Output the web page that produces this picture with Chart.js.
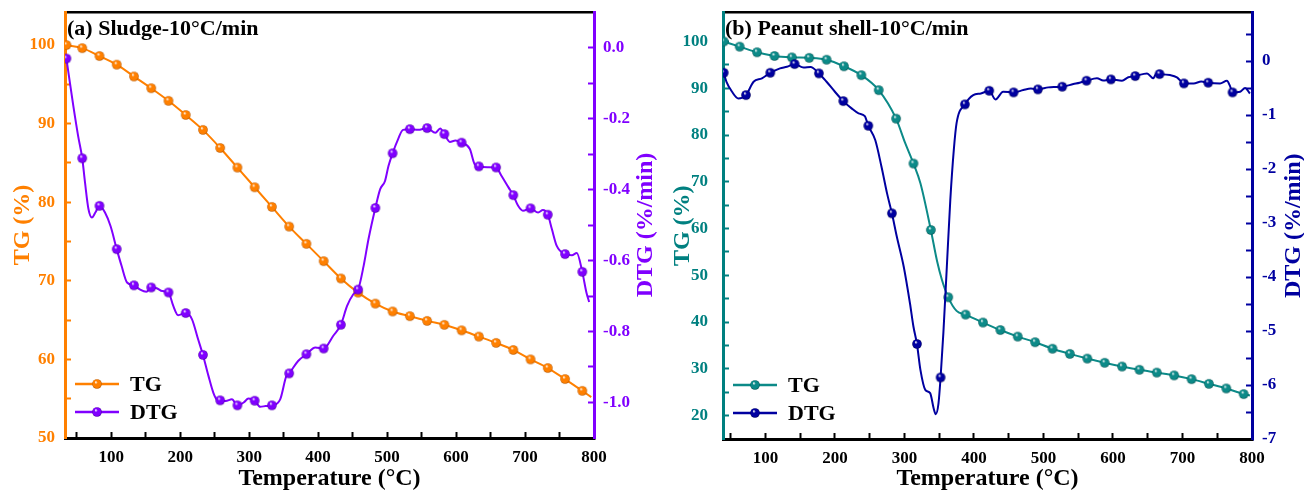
<!DOCTYPE html>
<html>
<head>
<meta charset="utf-8">
<script src="https://cdn.jsdelivr.net/npm/chart.js@4.4.0/dist/chart.umd.min.js"></script>
<style>
  html, body { margin: 0; padding: 0; background: #fff; }
  #wrap { position: relative; width: 1304px; height: 490px; overflow: hidden; }
  canvas { position: absolute; top: 0; }
  #sludge { left: 0; }
  #peanut { left: 660px; }
</style>
</head>
<body>
<div id="wrap">
  <canvas id="sludge" width="660" height="490"></canvas>
  <canvas id="peanut" width="644" height="490"></canvas>
</div>
<script>
// ---------- (a) Sludge, 10 °C/min ----------
const SLUDGE_TG_T = [35, 58, 83, 108, 133, 158, 183, 208, 233, 258, 283, 308, 333, 358, 383, 408,
  433, 458, 483, 508, 533, 558, 583, 608, 633, 658, 683, 708, 733, 758, 783, 796];
const SLUDGE_TG = [100.0, 99.6, 98.6, 97.5, 96.0, 94.5, 92.9, 91.1, 89.2, 86.9, 84.4, 81.9, 79.4, 76.9, 74.7, 72.5,
  70.3, 68.5, 67.1, 66.1, 65.5, 64.9, 64.4, 63.7, 62.9, 62.1, 61.2, 60.0, 58.9, 57.5, 56.0, 55.2];

const SLUDGE_DTG_T = [35, 45, 52, 58, 62, 67, 72, 77, 83, 91, 99, 108, 115, 123, 133, 142, 151, 158, 166, 174,
  183, 190, 197, 208, 217, 226, 233, 241, 248, 253, 258, 266, 275, 283, 292, 299, 308, 316, 324, 333,
  345, 354, 358, 371, 383, 396, 408, 422, 433, 442, 451, 458, 466, 473, 483, 490, 497, 502, 508, 516,
  523, 533, 545, 558, 570, 577, 583, 591, 599, 608, 620, 627, 633, 646, 658, 666, 676, 683, 690, 697,
  708, 719, 726, 733, 739, 746, 758, 768, 775, 783, 789, 793];
const SLUDGE_DTG = [-0.031, -0.164, -0.249, -0.312, -0.380, -0.455, -0.479, -0.465, -0.446, -0.465, -0.503, -0.568,
  -0.615, -0.662, -0.670, -0.682, -0.688, -0.676, -0.678, -0.686, -0.690, -0.728, -0.754, -0.748, -0.765,
  -0.822, -0.866, -0.925, -0.972, -0.991, -0.994, -0.996, -0.991, -1.008, -1.000, -0.989, -0.995, -1.012,
  -1.010, -1.008, -0.991, -0.925, -0.918, -0.883, -0.864, -0.845, -0.848, -0.812, -0.781, -0.728, -0.695,
  -0.682, -0.615, -0.540, -0.452, -0.399, -0.376, -0.334, -0.298, -0.258, -0.232, -0.230, -0.232, -0.227,
  -0.240, -0.228, -0.244, -0.266, -0.262, -0.268, -0.286, -0.329, -0.335, -0.337, -0.338, -0.362, -0.394,
  -0.416, -0.446, -0.460, -0.453, -0.465, -0.458, -0.471, -0.512, -0.559, -0.582, -0.585, -0.579, -0.632,
  -0.690, -0.717];

const SLUDGE_MARK_T = [35, 58, 83, 108, 133, 158, 183, 208, 233, 258, 283, 308, 333, 358, 383, 408,
  433, 458, 483, 508, 533, 558, 583, 608, 633, 658, 683, 708, 733, 758, 783];

// ---------- (b) Peanut shell, 10 °C/min ----------
const PEANUT_TG_T = [40, 63, 88, 113, 138, 163, 188, 213, 238, 263, 288, 301, 313, 323, 338, 347, 354, 363, 375,
  388, 413, 438, 463, 488, 513, 538, 563, 588, 613, 638, 663, 688, 713, 738, 763, 788, 797];
const PEANUT_TG = [100.0, 98.9, 97.7, 96.9, 96.6, 96.5, 96.1, 94.7, 92.8, 89.6, 83.5, 78.3, 73.9, 69.7, 59.7, 53.0,
  49.0, 45.3, 42.4, 41.6, 39.9, 38.3, 36.9, 35.7, 34.3, 33.2, 32.2, 31.3, 30.5, 29.8, 29.2, 28.6, 27.8, 26.8,
  25.8, 24.6, 24.3];
const PEANUT_TG_MARK_T = [40, 63, 88, 113, 138, 163, 188, 213, 238, 263, 288, 313, 338, 363, 388, 413, 438,
  463, 488, 513, 538, 563, 588, 613, 638, 663, 688, 713, 738, 763, 788];

const PEANUT_DTG_T = [40, 44, 52, 61, 72, 83, 95, 107, 121, 131, 142, 155, 165, 177, 188, 200, 212, 224, 234, 243,
  248, 258, 267, 275, 282, 289, 299, 308, 313, 318, 323, 330, 337, 342, 345, 349, 352, 356, 361, 366,
  371, 375, 387, 399, 410, 422, 431, 442, 457, 471, 482, 492, 507, 517, 527, 543, 552, 562, 577, 586,
  597, 613, 622, 632, 649, 658, 662, 667, 682, 692, 702, 716, 727, 737, 754, 764, 768, 772, 783, 790, 797];
const PEANUT_DTG = [-0.217, -0.383, -0.568, -0.691, -0.630, -0.383, -0.320, -0.217, -0.135, -0.105, -0.056, -0.117,
  -0.110, -0.228, -0.383, -0.568, -0.741, -0.876, -0.969, -1.019, -1.198, -1.463, -1.957, -2.450, -2.820,
  -3.250, -3.810, -4.490, -4.920, -5.240, -5.720, -6.090, -6.150, -6.430, -6.540, -6.340, -5.860, -5.040,
  -3.810, -2.570, -1.650, -1.150, -0.802, -0.630, -0.600, -0.550, -0.710, -0.568, -0.580, -0.537, -0.510,
  -0.524, -0.487, -0.480, -0.475, -0.426, -0.400, -0.364, -0.320, -0.360, -0.339, -0.364, -0.300, -0.278,
  -0.228, -0.320, -0.240, -0.241, -0.259, -0.300, -0.413, -0.413, -0.380, -0.401, -0.413, -0.364, -0.450,
  -0.580, -0.568, -0.500, -0.600];
const PEANUT_DTG_MARK_T = [40, 72, 107, 142, 177, 212, 248, 282, 318, 352, 387, 422, 457, 492, 527, 562, 597,
  632, 667, 702, 737, 772];

// ---------- axis ticks ----------
const TEMP_MAJOR = [100, 200, 300, 400, 500, 600, 700, 800];
const TEMP_MINOR = [50, 150, 250, 350, 450, 550, 650, 750];
const A_TG_MAJOR = [50, 60, 70, 80, 90, 100];
const A_TG_MINOR = [55, 65, 75, 85, 95];
const A_DTG_MAJOR = [0, -0.2, -0.4, -0.6, -0.8, -1.0];
const A_DTG_MINOR = [-0.1, -0.3, -0.5, -0.7, -0.9];
const B_TG_MAJOR = [20, 30, 40, 50, 60, 70, 80, 90, 100];
const B_TG_MINOR = [25, 35, 45, 55, 65, 75, 85, 95];
const B_DTG_MAJOR = [0, -1, -2, -3, -4, -5, -6, -7];
const B_DTG_MINOR = [0.5, -0.5, -1.5, -2.5, -3.5, -4.5, -5.5, -6.5];

const SERIF = "'Liberation Serif', 'Times New Roman', serif";
Chart.defaults.font.family = SERIF;
Chart.defaults.font.weight = 'bold';
Chart.defaults.color = '#000';

// Shaded ball used as the point symbol
function sphere(base, dark) {
  const s = 12, r = 4.8;
  const c = document.createElement('canvas');
  c.width = s; c.height = s;
  const g = c.getContext('2d');
  const grd = g.createRadialGradient(s / 2 - 1.3, s / 2 - 2.0, 0.2, s / 2, s / 2, r);
  grd.addColorStop(0, '#ffffff');
  grd.addColorStop(0.32, base);
  grd.addColorStop(0.8, base);
  grd.addColorStop(1, dark);
  g.fillStyle = grd;
  g.beginPath();
  g.arc(s / 2, s / 2, r, 0, Math.PI * 2);
  g.fill();
  return c;
}

function series(T, V) { return T.map((t, i) => ({ x: t, y: V[i] })); }

function tickList(major, minor) {
  return s => { s.ticks = major.concat(minor).sort((a, b) => a - b).map(v => ({ value: v })); };
}

// Fixed box size for a scale, without the extra edge padding reserved for labels
function fixedSize(prop, size) {
  return s => {
    s[prop] = size;
    s.paddingTop = 0; s.paddingBottom = 0; s.paddingLeft = 0; s.paddingRight = 0;
  };
}

// Line/symbol key drawn in the lower-left of the plot
const curveKey = {
  id: 'curveKey',
  afterDatasetsDraw(chart, args, opts) {
    const { ctx, chartArea } = chart;
    ctx.save();
    opts.rows.forEach(row => {
      const ds = chart.data.datasets[row.dataset];
      const y = chartArea.bottom + row.dy;
      const x0 = chartArea.left + 10;
      ctx.strokeStyle = ds.borderColor;
      ctx.lineWidth = 2.5;
      ctx.beginPath();
      ctx.moveTo(x0, y);
      ctx.lineTo(x0 + 44, y);
      ctx.stroke();
      const img = ds.pointStyle;
      ctx.drawImage(img, x0 + 22 - img.width / 2, y - img.height / 2);
      ctx.fillStyle = '#000';
      ctx.font = 'bold 22px ' + SERIF;
      ctx.textBaseline = 'middle';
      ctx.textAlign = 'left';
      ctx.fillText(ds.label, x0 + 55, y + 1);
    });
    ctx.restore();
  }
};

// Panel caption and right-hand axis title (reads bottom to top)
const panelText = {
  id: 'panelText',
  afterDraw(chart, args, opts) {
    const { ctx, chartArea } = chart;
    ctx.save();
    ctx.fillStyle = '#000';
    ctx.font = 'bold 22px ' + SERIF;
    ctx.textBaseline = 'middle';
    ctx.textAlign = 'left';
    ctx.fillText(opts.caption, chartArea.left + 2, chartArea.top + 17);
    ctx.translate(opts.rightTitleX, (chartArea.top + chartArea.bottom) / 2);
    ctx.rotate(-Math.PI / 2);
    ctx.textAlign = 'center';
    ctx.fillStyle = opts.rightTitleColor;
    ctx.font = 'bold 24px ' + SERIF;
    ctx.fillText(opts.rightTitle, 0, 0);
    ctx.restore();
  }
};

function yAxis(p) {
  return {
    type: 'linear',
    position: p.position,
    min: p.min,
    max: p.max,
    afterBuildTicks: tickList(p.major, p.minor),
    afterFit: fixedSize('width', p.width),
    ticks: {
      color: p.color,
      font: { size: 17, weight: 'bold' },
      padding: p.padding,
      autoSkip: false,
      callback: v => (p.major.includes(v) ? p.fmt(v) : '')
    },
    grid: { display: true, drawOnChartArea: false, drawTicks: true, tickLength: -6, tickWidth: 2, tickColor: p.color },
    border: { display: true, color: p.color, width: 3 },
    title: p.title
      ? { display: true, text: p.title, color: p.color, font: { size: 24, weight: 'bold' }, padding: { top: 8, bottom: 0 } }
      : { display: false }
  };
}

function makePanel(id, p) {
  const tgBall = sphere(p.tgColor, p.tgDark);
  const dtgBall = sphere(p.dtgColor, p.dtgDark);
  const radius = marks => c => (c.raw && marks.includes(c.raw.x) ? 4.8 : 0);
  return new Chart(document.getElementById(id), {
    type: 'line',
    data: {
      datasets: [
        {
          label: 'DTG', yAxisID: 'yR', data: series(p.dtgT, p.dtgV),
          borderColor: p.dtgColor, backgroundColor: p.dtgColor, borderWidth: 2,
          cubicInterpolationMode: 'monotone', fill: false,
          pointStyle: dtgBall, pointRadius: radius(p.dtgMarks), order: 0
        },
        {
          label: 'TG', yAxisID: 'yL', data: series(p.tgT, p.tgV),
          borderColor: p.tgColor, backgroundColor: p.tgColor, borderWidth: 2,
          cubicInterpolationMode: 'monotone', fill: false,
          pointStyle: tgBall, pointRadius: radius(p.tgMarks), order: 1
        }
      ]
    },
    options: {
      responsive: false,
      animation: false,
      devicePixelRatio: 1,
      events: [],
      layout: { padding: { top: p.top, left: 0, right: 0, bottom: 0 } },
      plugins: {
        legend: { display: false },
        tooltip: { enabled: false },
        curveKey: { rows: [{ dataset: 1, dy: -54 }, { dataset: 0, dy: -26 }] },
        panelText: { caption: p.caption, rightTitle: 'DTG (%/min)', rightTitleColor: p.dtgAxisColor, rightTitleX: p.rightTitleX }
      },
      scales: {
        x: {
          type: 'linear', position: 'bottom', min: p.xMin, max: 800,
          afterBuildTicks: tickList(TEMP_MAJOR, TEMP_MINOR),
          afterFit: fixedSize('height', p.xHeight),
          ticks: {
            color: '#000', font: { size: 17, weight: 'bold' }, padding: 15, autoSkip: false, maxRotation: 0,
            callback: v => (TEMP_MAJOR.includes(v) ? String(v) : '')
          },
          grid: { display: true, drawOnChartArea: false, drawTicks: true, tickLength: -6, tickWidth: 2, tickColor: '#000' },
          border: { display: true, color: '#000', width: 3 },
          title: { display: true, text: 'Temperature (°C)', color: '#000', font: { size: 24, weight: 'bold' }, padding: { top: 0, bottom: -3 } }
        },
        xTop: {
          type: 'linear', position: 'top', axis: 'x', min: p.xMin, max: 800,
          afterFit: fixedSize('height', 0),
          ticks: { display: false },
          grid: { display: true, drawOnChartArea: false, drawTicks: false },
          border: { display: true, color: '#000', width: 2.5 }
        },
        yL: yAxis({
          position: 'left', min: p.tgMin, max: p.tgMax, major: p.tgMajor, minor: p.tgMinor,
          color: p.tgAxisColor, fmt: v => String(v), width: p.leftWidth, padding: p.leftPad, title: 'TG (%)'
        }),
        yR: yAxis({
          position: 'right', min: p.dtgMin, max: p.dtgMax, major: p.dtgMajor, minor: p.dtgMinor,
          color: p.dtgAxisColor, fmt: p.dtgFmt, width: p.rightWidth, padding: p.rightPad, title: null
        })
      }
    },
    plugins: [curveKey, panelText]
  });
}

makePanel('sludge', {
  caption: '(a) Sludge-10°C/min',
  top: 12, xHeight: 52, leftWidth: 65, rightWidth: 66, leftPad: 16, rightPad: 15, rightTitleX: 646,
  xMin: 33,
  tgT: SLUDGE_TG_T, tgV: SLUDGE_TG, tgMarks: SLUDGE_MARK_T,
  dtgT: SLUDGE_DTG_T, dtgV: SLUDGE_DTG, dtgMarks: SLUDGE_MARK_T,
  tgMin: 50, tgMax: 104.2, tgMajor: A_TG_MAJOR, tgMinor: A_TG_MINOR,
  dtgMin: -1.1, dtgMax: 0.1, dtgMajor: A_DTG_MAJOR, dtgMinor: A_DTG_MINOR, dtgFmt: v => v.toFixed(1),
  tgColor: '#ff8000', tgDark: '#b85800', tgAxisColor: '#ff8000',
  dtgColor: '#8000ff', dtgDark: '#5000a8', dtgAxisColor: '#8000ff'
});

makePanel('peanut', {
  caption: '(b) Peanut shell-10°C/min',
  top: 12.5, xHeight: 51, leftWidth: 63, rightWidth: 52, leftPad: 21, rightPad: 16, rightTitleX: 634,
  xMin: 39,
  tgT: PEANUT_TG_T, tgV: PEANUT_TG, tgMarks: PEANUT_TG_MARK_T,
  dtgT: PEANUT_DTG_T, dtgV: PEANUT_DTG, dtgMarks: PEANUT_DTG_MARK_T,
  tgMin: 15, tgMax: 106.2, tgMajor: B_TG_MAJOR, tgMinor: B_TG_MINOR,
  dtgMin: -7, dtgMax: 0.9, dtgMajor: B_DTG_MAJOR, dtgMinor: B_DTG_MINOR, dtgFmt: v => String(v),
  tgColor: '#0c8a88', tgDark: '#045654', tgAxisColor: '#008080',
  dtgColor: '#0000a0', dtgDark: '#000060', dtgAxisColor: '#0000a0'
});
</script>
</body>
</html>
